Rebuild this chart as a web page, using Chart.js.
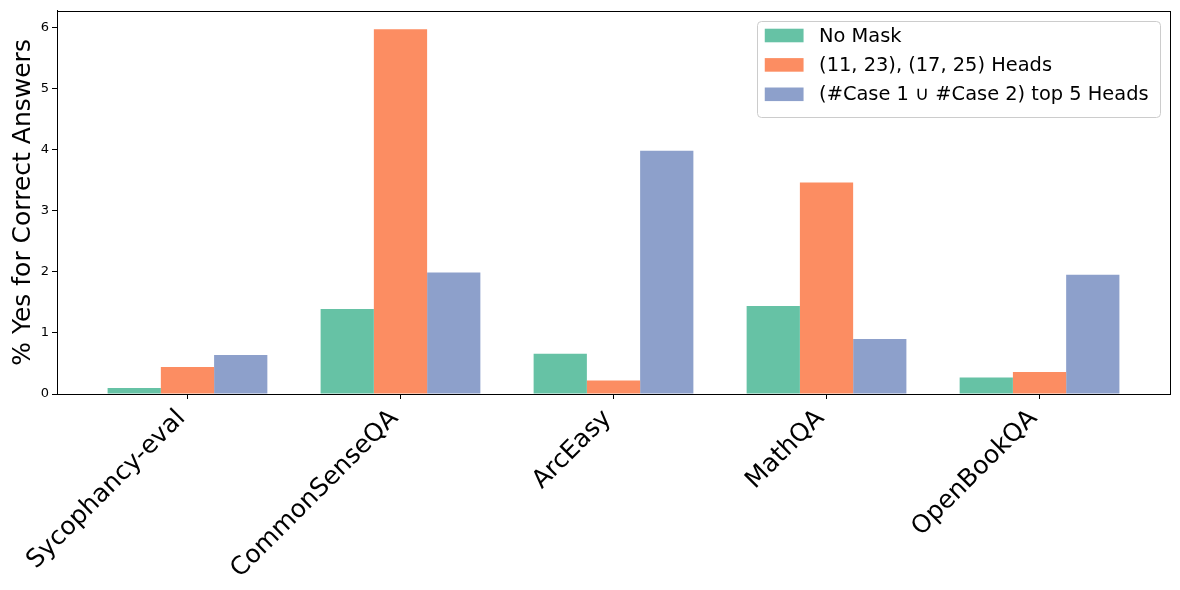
<!DOCTYPE html>
<html>
<head>
<meta charset="utf-8">
<script src="https://cdn.jsdelivr.net/npm/chart.js@4.4.1/dist/chart.umd.min.js"></script>
<style>
  html, body { margin: 0; padding: 0; background: #fff; }
  canvas { display: block; }
</style>
</head>
<body>
<canvas id="chart" width="1180" height="590"></canvas>
<script>
const categories = ['Sycophancy-eval', 'CommonSenseQA', 'ArcEasy', 'MathQA', 'OpenBookQA'];
const seriesLabels = ['No Mask', '(11, 23), (17, 25) Heads', '(#Case 1 \u222A #Case 2) top 5 Heads'];
const noMask = [0.10, 1.39, 0.66, 1.44, 0.27];
const pairHeads = [0.44, 5.97, 0.22, 3.46, 0.36];
const topHeads = [0.64, 1.99, 3.98, 0.90, 1.95];
const yTicks = [0, 1, 2, 3, 4, 5, 6];
const yTitle = '% Yes for Correct Answers';

const colors = ['#66c2a5', '#fc8d62', '#8da0cb'];
const font = 'DejaVu Sans';

function toPoints(values) {
    return values.map((v, i) => ({ x: i, y: v }));
}

// draws the black box around the plot area
const framePlugin = {
    id: 'frame',
    afterDatasetsDraw(chart) {
        const { ctx, chartArea: a } = chart;
        ctx.save();
        ctx.strokeStyle = '#000';
        ctx.lineWidth = 1;
        ctx.strokeRect(Math.round(a.left) + 0.5, Math.round(a.top) + 0.5,
            Math.round(a.right - a.left), Math.round(a.bottom - a.top));
        ctx.restore();
    }
};

// legend in the upper right corner, inside the axes
const insideLegend = {
    id: 'insideLegend',
    afterDraw(chart) {
        const { ctx, chartArea: a } = chart;
        const fs = 19.4;
        const pad = 0.4 * fs;
        const handle = 2.0 * fs;
        const textPad = 0.8 * fs;
        const rowH = 29.4;
        const ds = chart.data.datasets;

        ctx.save();
        ctx.font = `${fs}px "${font}"`;
        const textW = Math.max(...ds.map(d => ctx.measureText(d.label).width));
        const w = pad * 2 + handle + textPad + textW + 4;
        const h = 96;
        const right = a.right - 0.5 * fs;
        const top = a.top + 0.5 * fs;
        const left = right - w;

        ctx.beginPath();
        ctx.roundRect(Math.round(left) + 0.5, Math.round(top) + 0.5, Math.round(w), Math.round(h), 4);
        ctx.fillStyle = 'rgba(255,255,255,0.8)';
        ctx.fill();
        ctx.strokeStyle = '#cccccc';
        ctx.lineWidth = 1;
        ctx.stroke();

        ds.forEach((d, i) => {
            const cy = top + 15 + i * rowH;
            ctx.fillStyle = d.backgroundColor;
            ctx.fillRect(left + pad, cy - 0.35 * fs, handle, 0.7 * fs);
            ctx.fillStyle = '#000';
            ctx.textAlign = 'left';
            ctx.textBaseline = 'middle';
            ctx.fillText(d.label, left + pad + handle + textPad, cy + 1);
        });
        ctx.restore();
    }
};

new Chart(document.getElementById('chart'), {
    type: 'bar',
    data: {
        datasets: [
            { label: seriesLabels[0], data: toPoints(noMask), backgroundColor: colors[0] },
            { label: seriesLabels[1], data: toPoints(pairHeads), backgroundColor: colors[1] },
            { label: seriesLabels[2], data: toPoints(topHeads), backgroundColor: colors[2] }
        ]
    },
    options: {
        responsive: false,
        animation: false,
        events: [],
        layout: { padding: { top: 10, right: 10, left: 0, bottom: 0 } },
        datasets: {
            bar: { categoryPercentage: 0.75, barPercentage: 1.0, borderWidth: 0 }
        },
        plugins: {
            legend: { display: false },
            tooltip: { enabled: false }
        },
        scales: {
            x: {
                type: 'linear',
                min: -0.6125,
                max: 4.6125,
                offset: false,
                grid: { offset: false, drawOnChartArea: false, drawTicks: true, tickLength: 5, color: '#000' },
                border: { display: true, color: '#000' },
                afterBuildTicks: scale => {
                    scale.ticks = categories.map((c, i) => ({ value: i }));
                },
                afterFit: scale => { scale.height = 196; },
                ticks: {
                    autoSkip: false,
                    minRotation: 45,
                    maxRotation: 45,
                    padding: 5,
                    labelOffset: -6,
                    color: '#000',
                    font: { family: font, size: 25 },
                    callback: value => categories[value]
                }
            },
            y: {
                min: 0,
                max: 6.27,
                grid: { drawOnChartArea: false, drawTicks: true, tickLength: 5, color: '#000' },
                border: { display: true, color: '#000' },
                afterBuildTicks: scale => {
                    scale.ticks = yTicks.map(v => ({ value: v }));
                },
                afterFit: scale => { scale.width = 57; },
                ticks: {
                    padding: 3,
                    color: '#000',
                    font: { family: font, size: 13 }
                },
                title: {
                    display: true,
                    text: yTitle,
                    color: '#000',
                    font: { family: font, size: 25 },
                    padding: { top: 8, bottom: 4 }
                }
            }
        }
    },
    plugins: [framePlugin, insideLegend]
});
</script>
</body>
</html>
